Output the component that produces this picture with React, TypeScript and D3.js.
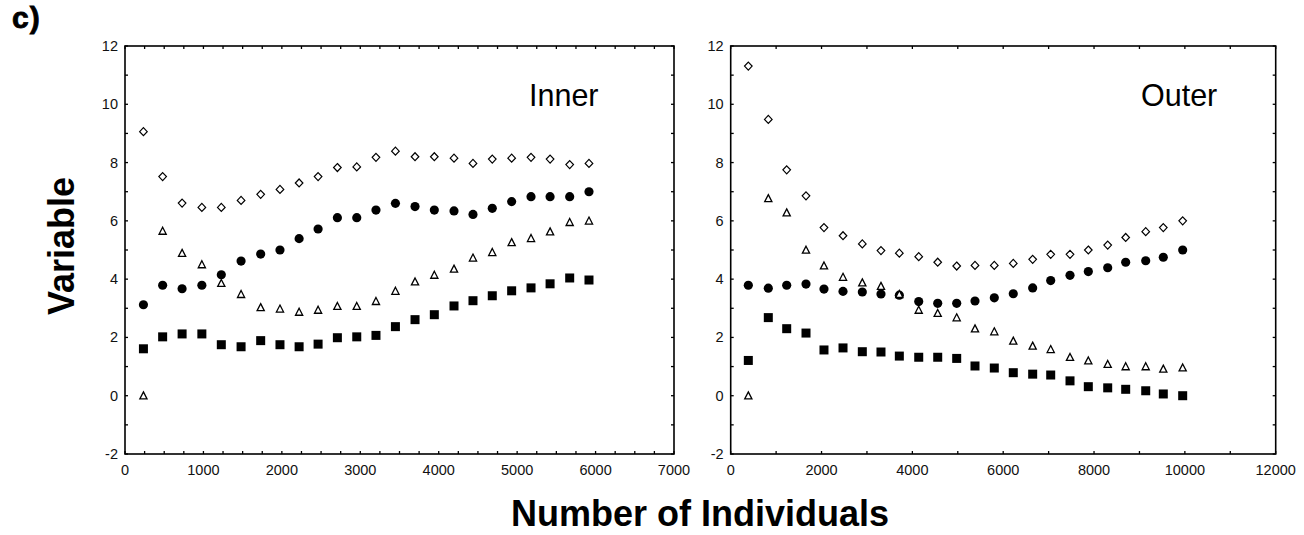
import React from "react";
import * as d3 from "d3";

// ---------- data ----------
const innerN = [235, 480, 728, 980, 1228, 1480, 1730, 1976, 2220, 2462, 2708, 2955, 3200, 3448, 3698, 3944, 4195, 4437, 4683, 4930, 5177, 5420, 5670, 5916];
const innerDiamond = [9.06, 7.52, 6.61, 6.46, 6.46, 6.70, 6.91, 7.08, 7.30, 7.52, 7.83, 7.85, 8.18, 8.39, 8.20, 8.20, 8.15, 7.97, 8.12, 8.15, 8.18, 8.12, 7.93, 7.97];
const innerCircle = [3.12, 3.79, 3.67, 3.79, 4.15, 4.62, 4.86, 5.0, 5.39, 5.72, 6.11, 6.11, 6.37, 6.60, 6.49, 6.37, 6.34, 6.22, 6.43, 6.66, 6.83, 6.83, 6.83, 7.0];
const innerTriangle = [0.0, 5.65, 4.89, 4.50, 3.86, 3.48, 3.03, 2.98, 2.87, 2.94, 3.07, 3.07, 3.24, 3.59, 3.91, 4.14, 4.35, 4.73, 4.92, 5.26, 5.40, 5.63, 5.95, 6.0];
const innerSquare = [1.61, 2.02, 2.12, 2.12, 1.75, 1.68, 1.89, 1.75, 1.68, 1.77, 1.99, 2.02, 2.07, 2.37, 2.61, 2.78, 3.08, 3.26, 3.43, 3.60, 3.70, 3.84, 4.04, 3.97];

const outerN = [388, 828, 1233, 1658, 2054, 2473, 2898, 3309, 3713, 4140, 4558, 4976, 5379, 5804, 6222, 6649, 7046, 7471, 7874, 8301, 8697, 9138, 9525, 9952];
const outerDiamond = [11.31, 9.48, 7.75, 6.86, 5.77, 5.49, 5.21, 4.98, 4.89, 4.77, 4.58, 4.45, 4.47, 4.47, 4.54, 4.68, 4.85, 4.85, 5.0, 5.17, 5.43, 5.63, 5.77, 6.0];
const outerCircle = [3.79, 3.69, 3.79, 3.83, 3.66, 3.58, 3.56, 3.49, 3.45, 3.23, 3.17, 3.17, 3.25, 3.36, 3.50, 3.70, 3.95, 4.13, 4.26, 4.39, 4.58, 4.63, 4.75, 5.0];
const outerTriangle = [0.0, 6.77, 6.28, 5.0, 4.46, 4.07, 3.88, 3.76, 3.48, 2.94, 2.83, 2.68, 2.30, 2.20, 1.88, 1.71, 1.59, 1.32, 1.20, 1.08, 1.0, 1.0, 0.92, 0.96];
const outerSquare = [1.21, 2.68, 2.30, 2.15, 1.57, 1.64, 1.51, 1.50, 1.36, 1.32, 1.32, 1.28, 1.02, 0.95, 0.79, 0.74, 0.71, 0.51, 0.31, 0.27, 0.22, 0.17, 0.06, 0.0];

const yTickLabels = [-2, 0, 2, 4, 6, 8, 10, 12];
const innerXTickLabels = [0, 1000, 2000, 3000, 4000, 5000, 6000, 7000];
const outerXTickLabels = [0, 2000, 4000, 6000, 8000, 10000, 12000];

const panelTitles = ["Inner", "Outer"];
const yAxisTitle = "Variable";
const xAxisTitle = "Number of Individuals";
const figLabel = "c)";

// ---------- layout ----------
const W = 1304;
const H = 535;
const TOP = 46;
const BOTTOM = 454;
const FONT = "'Liberation Sans', Arial, sans-serif";

type PanelProps = {
  left: number;
  right: number;
  xMax: number;
  minorStep: number;
  xLabels: number[];
  n: number[];
  diamond: number[];
  circle: number[];
  triangle: number[];
  square: number[];
  title: string;
  titleX: number;
};

function Panel(p: PanelProps) {
  const x = d3.scaleLinear().domain([0, p.xMax]).range([p.left, p.right]);
  const y = d3.scaleLinear().domain([-2, 12]).range([BOTTOM, TOP]);
  const xMinor = d3.range(0, p.xMax + 1e-6, p.minorStep);
  const yMinor = d3.range(-2, 12.0001, 1);
  const tl = 3;
  const diamondPath = "M0,-4L3.8,0L0,4L-3.8,0Z";
  const triPath = "M0,-3.8L3.6,3.2L-3.6,3.2Z";
  const circlePath = d3.symbol(d3.symbolCircle, 66)() as string;
  const sq = 9;
  return (
    <g>
      {xMinor.map((v, i) => (
        <g key={"xt" + i}>
          <line x1={x(v)} x2={x(v)} y1={BOTTOM} y2={BOTTOM - tl} stroke="#000" strokeWidth={1.3} />
          <line x1={x(v)} x2={x(v)} y1={TOP} y2={TOP + tl} stroke="#000" strokeWidth={1.3} />
        </g>
      ))}
      {yMinor.map((v, i) => (
        <g key={"yt" + i}>
          <line x1={p.left} x2={p.left + tl} y1={y(v)} y2={y(v)} stroke="#000" strokeWidth={1.3} />
          <line x1={p.right} x2={p.right - tl} y1={y(v)} y2={y(v)} stroke="#000" strokeWidth={1.3} />
        </g>
      ))}
      <rect x={p.left} y={TOP} width={p.right - p.left} height={BOTTOM - TOP} fill="none" stroke="#000" strokeWidth={1.6} />
      {p.xLabels.map((v) => (
        <text key={"xl" + v} x={x(v)} y={475} textAnchor="middle" fontFamily={FONT} fontSize={14.5} fill="#111">
          {v}
        </text>
      ))}
      {yTickLabels.map((v) => (
        <text key={"yl" + v} x={p.left - 7} y={y(v) + 5} textAnchor="end" fontFamily={FONT} fontSize={14.5} fill="#111">
          {v}
        </text>
      ))}
      {p.n.map((n, i) => (
        <g key={"m" + i}>
          <path d={diamondPath} transform={`translate(${x(n)},${y(p.diamond[i])})`} fill="#fff" stroke="#000" strokeWidth={1.2} />
          <path d={circlePath} transform={`translate(${x(n)},${y(p.circle[i])})`} fill="#000" />
          <path d={triPath} transform={`translate(${x(n)},${y(p.triangle[i])})`} fill="#fff" stroke="#000" strokeWidth={1.3} />
          <rect x={x(n) - sq / 2} y={y(p.square[i]) - sq / 2} width={sq} height={sq} fill="#000" />
        </g>
      ))}
      <text x={p.titleX} y={106} fontFamily={FONT} fontSize={30.5} fill="#000">
        {p.title}
      </text>
    </g>
  );
}

export default function App() {
  return (
    <div style={{ position: "absolute", left: 0, top: 0 }}>
      <svg width={W} height={H} style={{ display: "block", background: "#fff" }}>
        <rect x={0} y={0} width={W} height={H} fill="#fff" />
        <text x={12} y={28} fontFamily={FONT} fontWeight="bold" fontSize={30} letterSpacing={1} fill="#000" stroke="#000" strokeWidth={0.8}>
          {figLabel}
        </text>
        <Panel left={125} right={674} xMax={7000} minorStep={250} xLabels={innerXTickLabels} n={innerN}
          diamond={innerDiamond} circle={innerCircle} triangle={innerTriangle} square={innerSquare}
          title={panelTitles[0]} titleX={529} />
        <Panel left={730.7} right={1275.7} xMax={12000} minorStep={1000} xLabels={outerXTickLabels} n={outerN}
          diamond={outerDiamond} circle={outerCircle} triangle={outerTriangle} square={outerSquare}
          title={panelTitles[1]} titleX={1141} />
        <text transform="translate(74,246) rotate(-90)" textAnchor="middle" fontFamily={FONT} fontWeight="bold" fontSize={36} fill="#000">
          {yAxisTitle}
        </text>
        <text x={700} y={526} textAnchor="middle" fontFamily={FONT} fontWeight="bold" fontSize={36} fill="#000">
          {xAxisTitle}
        </text>
      </svg>
    </div>
  );
}
